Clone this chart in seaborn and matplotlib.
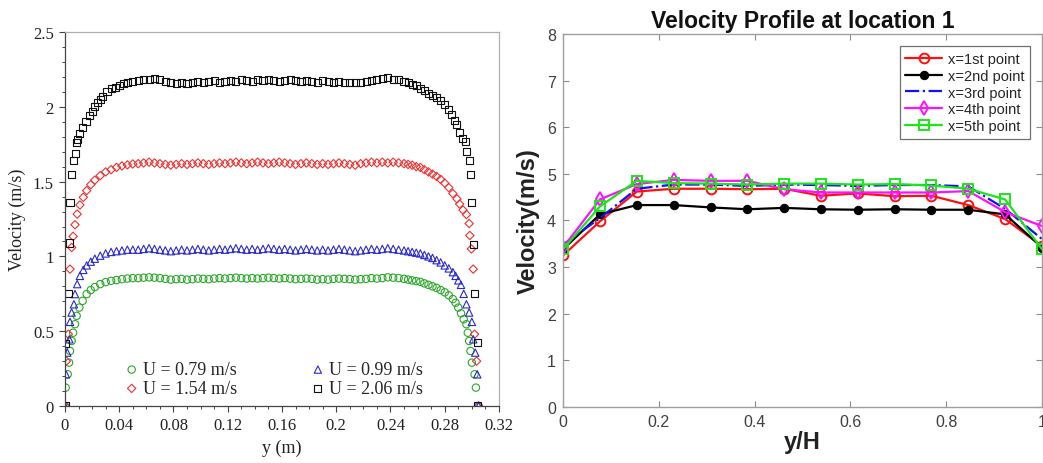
import matplotlib
matplotlib.use("Agg")
import matplotlib.pyplot as plt
import seaborn as sns
from matplotlib.ticker import MultipleLocator

# ---------------- left panel data ----------------
# shared positions across the core of the channel
y_core = [0.054, 0.058, 0.062, 0.066, 0.070, 0.074, 0.078, 0.082, 0.086, 0.090,
          0.094, 0.098, 0.102, 0.106, 0.110, 0.114, 0.118, 0.122, 0.126, 0.130,
          0.134, 0.138, 0.142, 0.146, 0.150, 0.154, 0.158, 0.162, 0.166, 0.170,
          0.174, 0.178, 0.182, 0.186, 0.190, 0.194, 0.198, 0.202, 0.206, 0.210,
          0.214, 0.218, 0.222, 0.226, 0.230, 0.234, 0.238, 0.242, 0.246, 0.250]

# U = 0.79 m/s
g_left_y = [0, 0.0005, 0.002, 0.003, 0.0037, 0.0049, 0.006, 0.0074, 0.0086, 0.0106,
            0.013, 0.016, 0.019, 0.022, 0.026, 0.030, 0.034, 0.038, 0.042, 0.046, 0.050]
g_left_v = [0, 0.123, 0.212, 0.29, 0.368, 0.435, 0.49, 0.547, 0.603, 0.658,
            0.703, 0.748, 0.775, 0.795, 0.815, 0.828, 0.837, 0.842, 0.848, 0.852, 0.855]
g_core_v = [0.855, 0.858, 0.86, 0.858, 0.855, 0.85, 0.845, 0.848, 0.85, 0.845,
            0.848, 0.852, 0.85, 0.848, 0.852, 0.855, 0.852, 0.855, 0.858, 0.855,
            0.852, 0.855, 0.852, 0.855, 0.858, 0.855, 0.852, 0.855, 0.852, 0.848,
            0.85, 0.852, 0.85, 0.845, 0.848, 0.845, 0.85, 0.852, 0.85, 0.848,
            0.845, 0.848, 0.85, 0.855, 0.852, 0.855, 0.86, 0.858, 0.855, 0.85]
g_right_y = [0.253, 0.256, 0.259, 0.262, 0.265, 0.268, 0.271, 0.274, 0.277, 0.280,
             0.283, 0.286, 0.288, 0.290, 0.292, 0.294, 0.296, 0.297, 0.298, 0.299,
             0.300, 0.302, 0.303, 0.305]
g_right_v = [0.845, 0.84, 0.835, 0.83, 0.82, 0.81, 0.80, 0.79, 0.775, 0.76,
             0.74, 0.715, 0.69, 0.658, 0.62, 0.58, 0.547, 0.49, 0.435, 0.368,
             0.29, 0.212, 0.123, 0]

# U = 0.99 m/s
b_left_y = [0, 0.0007, 0.0017, 0.0032, 0.0037, 0.0049, 0.0066, 0.0074, 0.009, 0.011,
            0.0135, 0.016, 0.019, 0.022, 0.026, 0.030, 0.034, 0.038, 0.042, 0.046, 0.050]
b_left_v = [0, 0.212, 0.357, 0.446, 0.5625, 0.625, 0.68, 0.748, 0.815, 0.87,
            0.91, 0.94, 0.965, 0.985, 1.005, 1.02, 1.03, 1.035, 1.04, 1.045, 1.045]
b_core_v = [1.045, 1.05, 1.055, 1.05, 1.045, 1.04, 1.035, 1.04, 1.045, 1.04,
            1.045, 1.05, 1.045, 1.04, 1.045, 1.05, 1.045, 1.05, 1.055, 1.05,
            1.045, 1.05, 1.045, 1.05, 1.055, 1.05, 1.045, 1.05, 1.045, 1.04,
            1.045, 1.05, 1.045, 1.04, 1.045, 1.04, 1.045, 1.05, 1.045, 1.04,
            1.035, 1.04, 1.045, 1.05, 1.045, 1.05, 1.055, 1.05, 1.045, 1.04]
b_right_y = [0.253, 0.256, 0.259, 0.262, 0.265, 0.268, 0.271, 0.274, 0.277, 0.280,
             0.283, 0.286, 0.288, 0.290, 0.292, 0.294, 0.296, 0.298, 0.300, 0.301,
             0.3025, 0.304, 0.305]
b_right_v = [1.035, 1.03, 1.025, 1.02, 1.01, 1.0, 0.99, 0.975, 0.96, 0.94,
             0.92, 0.895, 0.87, 0.84, 0.81, 0.75, 0.68, 0.625, 0.5625, 0.446,
             0.357, 0.212, 0]

# U = 1.54 m/s
r_left_y = [0, 0.001, 0.0025, 0.0037, 0.0049, 0.006, 0.0074, 0.009, 0.011, 0.0135,
            0.016, 0.019, 0.022, 0.026, 0.030, 0.034, 0.038, 0.042, 0.046, 0.050]
r_left_v = [0, 0.30, 0.48, 0.915, 1.06, 1.134, 1.212, 1.283, 1.344, 1.395,
            1.44, 1.48, 1.51, 1.54, 1.565, 1.58, 1.595, 1.605, 1.612, 1.618]
r_core_v = [1.62, 1.625, 1.63, 1.625, 1.62, 1.615, 1.61, 1.615, 1.62, 1.615,
            1.62, 1.625, 1.62, 1.615, 1.62, 1.625, 1.62, 1.625, 1.63, 1.625,
            1.62, 1.625, 1.63, 1.625, 1.62, 1.625, 1.63, 1.625, 1.62, 1.615,
            1.62, 1.625, 1.62, 1.615, 1.62, 1.615, 1.62, 1.625, 1.62, 1.615,
            1.61, 1.62, 1.625, 1.63, 1.625, 1.63, 1.625, 1.63, 1.625, 1.62]
r_right_y = [0.253, 0.256, 0.259, 0.262, 0.265, 0.268, 0.271, 0.274, 0.277, 0.280,
             0.283, 0.286, 0.289, 0.291, 0.2935, 0.296, 0.298, 0.2985, 0.2997, 0.301,
             0.302, 0.3035, 0.305]
r_right_v = [1.615, 1.61, 1.60, 1.595, 1.58, 1.565, 1.55, 1.535, 1.515, 1.49,
             1.46, 1.42, 1.385, 1.35, 1.31, 1.28, 1.22, 1.14, 1.05, 0.915,
             0.48, 0.30, 0]

# U = 2.06 m/s
k_left_y = [0, 0.0005, 0.0025, 0.003, 0.0037, 0.0049, 0.006, 0.0075, 0.0085, 0.0095,
            0.011, 0.013, 0.0155, 0.018, 0.020, 0.022, 0.024, 0.026, 0.028, 0.031,
            0.034, 0.037, 0.040, 0.043, 0.046, 0.050]
k_left_v = [0, 0.42, 0.75, 1.09, 1.36, 1.55, 1.64, 1.69, 1.76, 1.78,
            1.82, 1.86, 1.90, 1.94, 1.97, 2.00, 2.03, 2.05, 2.07, 2.10,
            2.12, 2.13, 2.145, 2.155, 2.165, 2.17]
k_core_v = [2.175, 2.18, 2.185, 2.19, 2.185, 2.17, 2.16, 2.155, 2.16, 2.155,
            2.165, 2.17, 2.165, 2.17, 2.175, 2.165, 2.17, 2.175, 2.17, 2.18,
            2.175, 2.17, 2.18, 2.175, 2.18, 2.175, 2.17, 2.175, 2.18, 2.175,
            2.17, 2.175, 2.17, 2.165, 2.175, 2.17, 2.165, 2.17, 2.16, 2.165,
            2.16, 2.165, 2.17, 2.175, 2.18, 2.19, 2.195, 2.185, 2.18, 2.17]
k_right_y = [0.253, 0.256, 0.259, 0.262, 0.265, 0.268, 0.271, 0.274, 0.277, 0.280,
             0.283, 0.285, 0.287, 0.289, 0.291, 0.293, 0.2955, 0.296, 0.298, 0.299,
             0.300, 0.301, 0.302, 0.304, 0.304]
k_right_v = [2.16, 2.15, 2.14, 2.125, 2.11, 2.09, 2.075, 2.06, 2.04, 2.015,
             1.98, 1.95, 1.91, 1.88, 1.83, 1.79, 1.77, 1.70, 1.64, 1.545,
             1.36, 1.08, 0.75, 0.425, 0]

# ---------------- right panel data ----------------
yH = [0, 0.077, 0.154, 0.231, 0.308, 0.385, 0.462, 0.538, 0.615, 0.692,
      0.769, 0.846, 0.923, 1.0]
v_p1 = [3.25, 3.98, 4.62, 4.68, 4.68, 4.67, 4.68, 4.53, 4.58, 4.52, 4.53, 4.33, 4.03, 3.45]
v_p2 = [3.38, 4.13, 4.33, 4.33, 4.28, 4.24, 4.27, 4.24, 4.23, 4.24, 4.23, 4.23, 4.13, 3.42]
v_p3 = [3.48, 4.05, 4.68, 4.77, 4.77, 4.74, 4.77, 4.76, 4.74, 4.76, 4.76, 4.73, 4.25, 3.60]
v_p4 = [3.42, 4.45, 4.78, 4.87, 4.85, 4.85, 4.67, 4.60, 4.60, 4.60, 4.60, 4.63, 4.18, 3.88]
v_p5 = [3.38, 4.30, 4.85, 4.80, 4.79, 4.77, 4.79, 4.79, 4.77, 4.78, 4.75, 4.68, 4.45, 3.38]

sns.set_style("white")

fig = plt.figure(figsize=(10.43, 4.64), dpi=100)
ax1 = fig.add_axes([0.0623, 0.1228, 0.4161, 0.806])
ax2 = fig.add_axes([0.5398, 0.1207, 0.4593, 0.804])

# ---------------- left panel ----------------
serif = ["Liberation Serif", "DejaVu Serif"]
series = [
    ("U = 0.79 m/s", g_left_y + y_core + g_right_y, g_left_v + g_core_v + g_right_v, "#2aa82a", "o", 28),
    ("U = 1.54 m/s", r_left_y + y_core + r_right_y, r_left_v + r_core_v + r_right_v, "#f03030", "D", 18),
    ("U = 0.99 m/s", b_left_y + y_core + b_right_y, b_left_v + b_core_v + b_right_v, "#2a2ad0", "^", 28),
    ("U = 2.06 m/s", k_left_y + y_core + k_right_y, k_left_v + k_core_v + k_right_v, "#111111", "s", 26),
]
for label, xs, vs, col, mk, size in series:
    sns.scatterplot(x=xs, y=vs, ax=ax1, marker=mk, s=size, color=col,
                    facecolor="none", edgecolor=col, linewidth=0.8, label=label)

ax1.set_xlim(0, 0.32)
ax1.set_ylim(0, 2.5)
ax1.xaxis.set_minor_locator(MultipleLocator(0.01))
ax1.yaxis.set_minor_locator(MultipleLocator(0.1))
ax1.set_xticks([0, 0.04, 0.08, 0.12, 0.16, 0.2, 0.24, 0.28, 0.32])
ax1.set_xticklabels(["0", "0.04", "0.08", "0.12", "0.16", "0.2", "0.24", "0.28", "0.32"])
ax1.set_yticks([0, 0.5, 1, 1.5, 2, 2.5])
ax1.set_yticklabels(["0", "0.5", "1", "1.5", "2", "2.5"])
ax1.tick_params(which="major", direction="out", length=4, width=0.8, color="#444444",
                labelsize=12, labelcolor="#222222", left=True, bottom=True, pad=4)
ax1.tick_params(which="minor", direction="out", length=2.5, width=0.7, color="#444444",
                left=True, bottom=True)
for lab in ax1.get_xticklabels() + ax1.get_yticklabels():
    lab.set_family(serif)
for side in ["top", "right"]:
    ax1.spines[side].set_color("#b0b0b0")
for side in ["left", "bottom"]:
    ax1.spines[side].set_color("#444444")
for sp in ax1.spines.values():
    sp.set_linewidth(0.9)
ax1.set_xlabel("y (m)", fontsize=13, family=serif, color="#222222", labelpad=4)
ax1.set_ylabel("Velocity (m/s)", fontsize=13, family=serif, color="#222222", labelpad=5)
ax1.legend(loc="lower left", bbox_to_anchor=(0.11, -0.01), ncol=2, frameon=False,
           prop={"family": serif, "size": 13}, handlelength=0.7, handletextpad=0.25,
           columnspacing=4.15, labelspacing=0.1, markerscale=1.0, borderpad=0.2)

# ---------------- right panel ----------------
sans = ["Liberation Sans", "DejaVu Sans"]
sns.lineplot(x=yH, y=v_p1, ax=ax2, color="#ff1010", linewidth=1.6, marker="o",
             markersize=7, markerfacecolor="none", markeredgecolor="#ff1010",
             markeredgewidth=1.4, label="x=1st point")
sns.lineplot(x=yH, y=v_p2, ax=ax2, color="#000000", linewidth=1.6, marker="o",
             markersize=6, markerfacecolor="#000000", markeredgecolor="#000000",
             label="x=2nd point")
sns.lineplot(x=yH, y=v_p3, ax=ax2, color="#1010ff", linewidth=1.6, linestyle="-.",
             label="x=3rd point")
sns.lineplot(x=yH, y=v_p4, ax=ax2, color="#ff10ff", linewidth=1.6, marker="d",
             markersize=7, markerfacecolor="none", markeredgecolor="#ff10ff",
             markeredgewidth=1.4, label="x=4th point")
sns.lineplot(x=yH, y=v_p5, ax=ax2, color="#18e818", linewidth=1.6, marker="s",
             markersize=6.5, markerfacecolor="none", markeredgecolor="#18e818",
             markeredgewidth=1.4, label="x=5th point")

ax2.set_xlim(0, 1)
ax2.set_ylim(0, 8)
ax2.set_xticks([0, 0.2, 0.4, 0.6, 0.8, 1.0])
ax2.set_xticklabels(["0", "0.2", "0.4", "0.6", "0.8", "1"])
ax2.set_yticks([0, 1, 2, 3, 4, 5, 6, 7, 8])
ax2.tick_params(direction="in", length=4, width=0.8, color="#8a8a8a", labelsize=11.5,
                labelcolor="#404040", top=True, right=True, left=True, bottom=True,
                pad=5)
for lab in ax2.get_xticklabels() + ax2.get_yticklabels():
    lab.set_family(sans)
for sp in ax2.spines.values():
    sp.set_color("#a0a0a0")
    sp.set_linewidth(1.0)
ax2.set_title("Velocity Profile at location 1", fontsize=16.5, fontweight="bold",
              family=sans, color="#111111", pad=5)
ax2.set_xlabel("y/H", fontsize=17, fontweight="bold", family=sans, color="#222222",
               labelpad=1)
ax2.set_ylabel("Velocity(m/s)", fontsize=17, fontweight="bold", family=sans,
               color="#222222", labelpad=5)
leg = ax2.legend(loc="upper right", bbox_to_anchor=(0.975, 0.968), borderaxespad=0,
                 fancybox=False, framealpha=1, edgecolor="#707070",
                 prop={"family": sans, "size": 10.5}, handlelength=2.5,
                 handletextpad=0.4, labelspacing=0.2, borderpad=0.4)
leg.get_frame().set_linewidth(0.9)

fig.savefig("out.png", dpi=100)
